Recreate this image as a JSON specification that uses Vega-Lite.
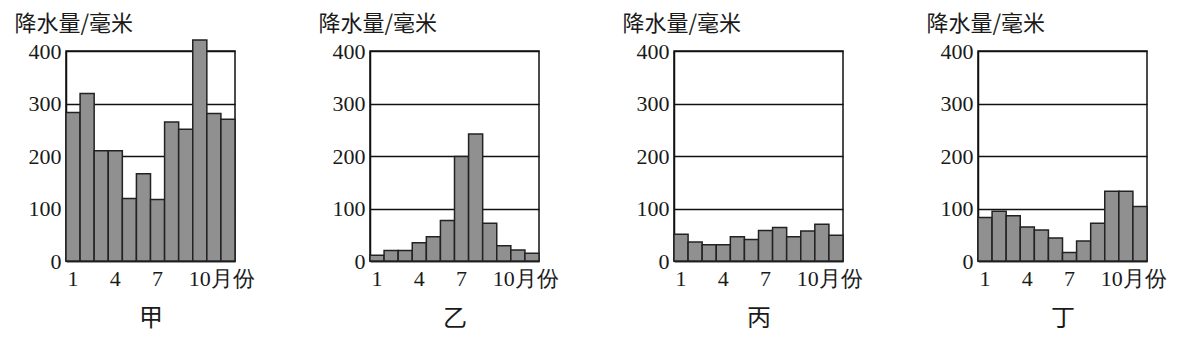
{
  "$schema": "https://vega.github.io/schema/vega-lite/v6.json",
  "autosize": {"type": "pad"},
  "padding": {"left": 13, "top": 11, "right": 5, "bottom": 5},
  "bounds": "flush",
  "spacing": 135,
  "background": "white",
  "data": {
    "values": [
      {"panel": "甲", "month": 1, "value": 283}, {"panel": "甲", "month": 2, "value": 319}, {"panel": "甲", "month": 3, "value": 210}, {"panel": "甲", "month": 4, "value": 210}, {"panel": "甲", "month": 5, "value": 119}, {"panel": "甲", "month": 6, "value": 166}, {"panel": "甲", "month": 7, "value": 117}, {"panel": "甲", "month": 8, "value": 265}, {"panel": "甲", "month": 9, "value": 251}, {"panel": "甲", "month": 10, "value": 421}, {"panel": "甲", "month": 11, "value": 281}, {"panel": "甲", "month": 12, "value": 270},
      {"panel": "乙", "month": 1, "value": 11}, {"panel": "乙", "month": 2, "value": 20}, {"panel": "乙", "month": 3, "value": 20}, {"panel": "乙", "month": 4, "value": 35}, {"panel": "乙", "month": 5, "value": 46}, {"panel": "乙", "month": 6, "value": 77}, {"panel": "乙", "month": 7, "value": 199}, {"panel": "乙", "month": 8, "value": 242}, {"panel": "乙", "month": 9, "value": 72}, {"panel": "乙", "month": 10, "value": 29}, {"panel": "乙", "month": 11, "value": 21}, {"panel": "乙", "month": 12, "value": 15},
      {"panel": "丙", "month": 1, "value": 51}, {"panel": "丙", "month": 2, "value": 36}, {"panel": "丙", "month": 3, "value": 31}, {"panel": "丙", "month": 4, "value": 31}, {"panel": "丙", "month": 5, "value": 46}, {"panel": "丙", "month": 6, "value": 41}, {"panel": "丙", "month": 7, "value": 58}, {"panel": "丙", "month": 8, "value": 64}, {"panel": "丙", "month": 9, "value": 46}, {"panel": "丙", "month": 10, "value": 57}, {"panel": "丙", "month": 11, "value": 70}, {"panel": "丙", "month": 12, "value": 49},
      {"panel": "丁", "month": 1, "value": 83}, {"panel": "丁", "month": 2, "value": 95}, {"panel": "丁", "month": 3, "value": 86}, {"panel": "丁", "month": 4, "value": 65}, {"panel": "丁", "month": 5, "value": 59}, {"panel": "丁", "month": 6, "value": 44}, {"panel": "丁", "month": 7, "value": 16}, {"panel": "丁", "month": 8, "value": 38}, {"panel": "丁", "month": 9, "value": 72}, {"panel": "丁", "month": 10, "value": 133}, {"panel": "丁", "month": 11, "value": 133}, {"panel": "丁", "month": 12, "value": 104}
    ]
  },
  "config": {
    "view": {"stroke": "#111", "strokeWidth": 1.5},
    "axis": {
      "domainColor": "#111", "domainWidth": 1.5, "ticks": false,
      "labelFont": "Liberation Serif", "labelFontSize": 22, "labelColor": "#1a1a1a",
      "titleFont": "Noto Sans CJK SC", "titleFontWeight": "normal", "titleColor": "#1a1a1a",
      "grid": false
    },
    "axisY": {"grid": true, "gridColor": "#111", "gridWidth": 1.5, "gridOpacity": 1}
  },
  "hconcat": [
    {
      "width": 169, "height": 210,
      "transform": [{"filter": "datum.panel == '甲'"}],
      "mark": {"type": "bar", "fill": "#909090", "stroke": "#222", "strokeWidth": 1.5},
      "encoding": {
        "x": {"field": "month", "type": "ordinal", "scale": {"paddingInner": 0, "paddingOuter": 0},
          "axis": {"values": [1, 4, 7, 10], "labelAngle": 0, "labelPadding": 7,
            "labelExpr": "datum.value == 10 ? '10月份' : datum.label",
            "labelAlign": {"condition": {"test": "datum.value == 10", "value": "left"}, "value": "center"},
            "labelOffset": {"condition": {"test": "datum.value == 10", "value": -11}, "value": 0},
            "title": "甲", "titleFontSize": 24, "titlePadding": 17}},
        "y": {"field": "value", "type": "quantitative", "scale": {"domain": [0, 400], "nice": false},
          "axis": {"values": [0, 100, 200, 300, 400], "labelPadding": 5,
            "title": "降水量/毫米", "titleAngle": 0, "titleAlign": "left", "titleBaseline": "alphabetic",
            "titleX": -52, "titleY": -21, "titleFontSize": 22}}
      }
    },
    {
      "width": 169, "height": 210,
      "transform": [{"filter": "datum.panel == '乙'"}],
      "mark": {"type": "bar", "fill": "#909090", "stroke": "#222", "strokeWidth": 1.5},
      "encoding": {
        "x": {"field": "month", "type": "ordinal", "scale": {"paddingInner": 0, "paddingOuter": 0},
          "axis": {"values": [1, 4, 7, 10], "labelAngle": 0, "labelPadding": 7,
            "labelExpr": "datum.value == 10 ? '10月份' : datum.label",
            "labelAlign": {"condition": {"test": "datum.value == 10", "value": "left"}, "value": "center"},
            "labelOffset": {"condition": {"test": "datum.value == 10", "value": -11}, "value": 0},
            "title": "乙", "titleFontSize": 24, "titlePadding": 17}},
        "y": {"field": "value", "type": "quantitative", "scale": {"domain": [0, 400], "nice": false},
          "axis": {"values": [0, 100, 200, 300, 400], "labelPadding": 5,
            "title": "降水量/毫米", "titleAngle": 0, "titleAlign": "left", "titleBaseline": "alphabetic",
            "titleX": -52, "titleY": -21, "titleFontSize": 22}}
      }
    },
    {
      "width": 169, "height": 210,
      "transform": [{"filter": "datum.panel == '丙'"}],
      "mark": {"type": "bar", "fill": "#909090", "stroke": "#222", "strokeWidth": 1.5},
      "encoding": {
        "x": {"field": "month", "type": "ordinal", "scale": {"paddingInner": 0, "paddingOuter": 0},
          "axis": {"values": [1, 4, 7, 10], "labelAngle": 0, "labelPadding": 7,
            "labelExpr": "datum.value == 10 ? '10月份' : datum.label",
            "labelAlign": {"condition": {"test": "datum.value == 10", "value": "left"}, "value": "center"},
            "labelOffset": {"condition": {"test": "datum.value == 10", "value": -11}, "value": 0},
            "title": "丙", "titleFontSize": 24, "titlePadding": 17}},
        "y": {"field": "value", "type": "quantitative", "scale": {"domain": [0, 400], "nice": false},
          "axis": {"values": [0, 100, 200, 300, 400], "labelPadding": 5,
            "title": "降水量/毫米", "titleAngle": 0, "titleAlign": "left", "titleBaseline": "alphabetic",
            "titleX": -52, "titleY": -21, "titleFontSize": 22}}
      }
    },
    {
      "width": 169, "height": 210,
      "transform": [{"filter": "datum.panel == '丁'"}],
      "mark": {"type": "bar", "fill": "#909090", "stroke": "#222", "strokeWidth": 1.5},
      "encoding": {
        "x": {"field": "month", "type": "ordinal", "scale": {"paddingInner": 0, "paddingOuter": 0},
          "axis": {"values": [1, 4, 7, 10], "labelAngle": 0, "labelPadding": 7,
            "labelExpr": "datum.value == 10 ? '10月份' : datum.label",
            "labelAlign": {"condition": {"test": "datum.value == 10", "value": "left"}, "value": "center"},
            "labelOffset": {"condition": {"test": "datum.value == 10", "value": -11}, "value": 0},
            "title": "丁", "titleFontSize": 24, "titlePadding": 17}},
        "y": {"field": "value", "type": "quantitative", "scale": {"domain": [0, 400], "nice": false},
          "axis": {"values": [0, 100, 200, 300, 400], "labelPadding": 5,
            "title": "降水量/毫米", "titleAngle": 0, "titleAlign": "left", "titleBaseline": "alphabetic",
            "titleX": -52, "titleY": -21, "titleFontSize": 22}}
      }
    }
  ]
}
